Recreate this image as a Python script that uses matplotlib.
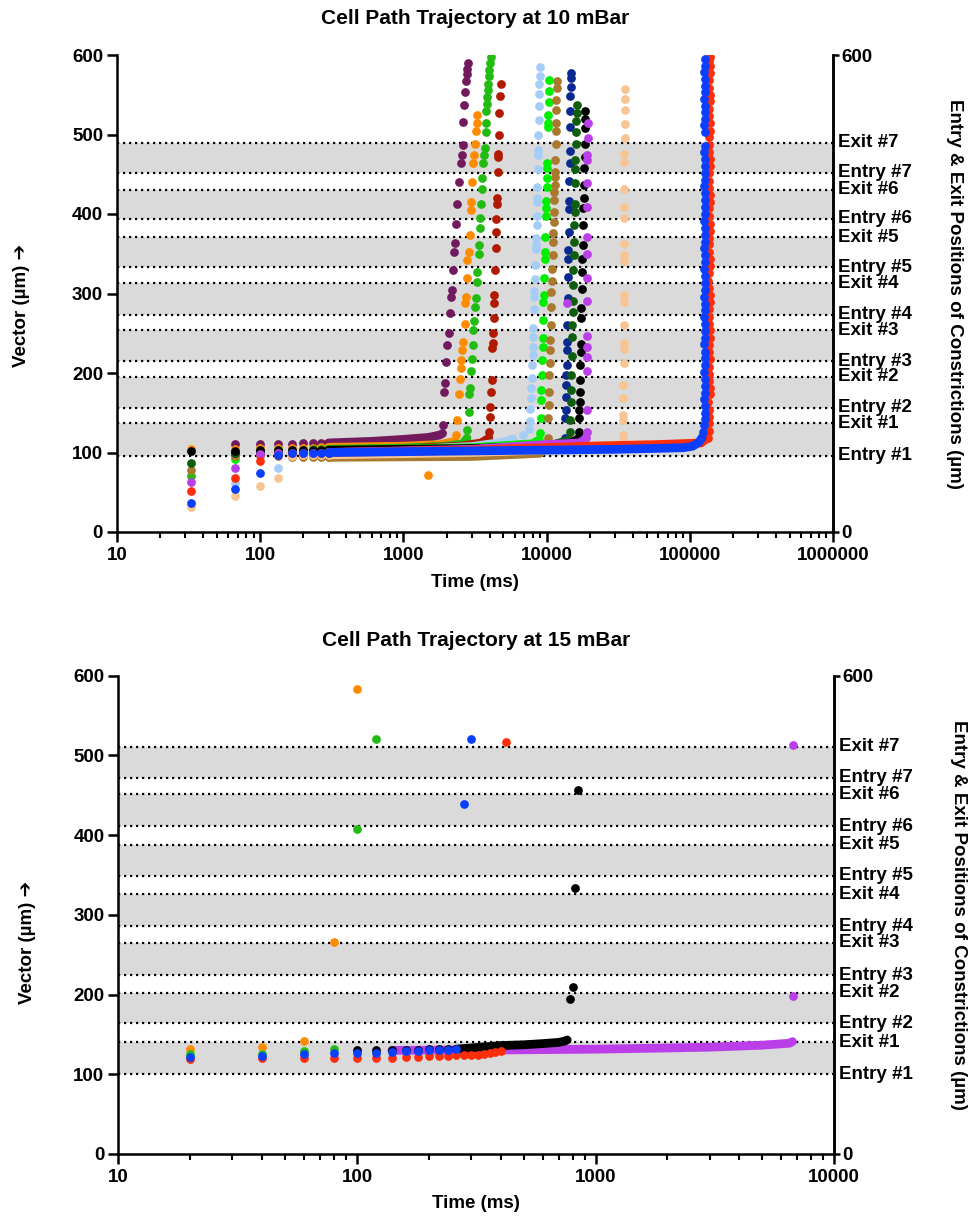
import numpy as np
import matplotlib
matplotlib.use("Agg")
import matplotlib.pyplot as plt
from matplotlib.ticker import FixedLocator, LogLocator, NullFormatter

plt.rcParams['font.family'] = ['Liberation Sans', 'DejaVu Sans']
plt.rcParams['font.weight'] = 'bold'

nan = np.nan

# constriction entry / exit positions (um)
entry10 = [96, 156, 215, 273, 333, 394, 452]
exit10 = [136.5, 195, 253.5, 312.6, 370.5, 430.5, 489.6]
entry15 = [100, 164, 224, 286, 349, 411, 472]
exit15 = [140, 202, 265, 326, 388, 451, 511]

# ---------------- 10 mBar ----------------
frames10 = [33, 67, 100, 133, 167, 200, 233, 267, 300]

plum_early = [nan, 111, 111, 111, 111, 111.5, 111.5, 112, 112]
plum_creep_t = [300, 600, 1000, 1500, 1800]
plum_creep_v = [112, 114, 116.5, 119, 122]
plum_jump_t = [1851, 1882, 1921, 1952, 1984, 2026, 2092, 2115, 2139, 2174, 2209, 2256, 2293,
               2329, 2379, 2457, 2513, 2553, 2595, 2620, 2650, 2680, 2737, 2768, 2794, 2812]
plum_jump_v = [124, 135, 176, 187, 214, 235, 250, 276, 296, 304, 330, 352, 363,
               388, 412, 440, 464, 474, 487, 516, 537, 554, 567, 576, 583, 590]

orange_early = [104.5, 104.5, 106, 106, 106, 106, 106, 106.5, 106.5]
orange_creep_t = [300, 1000, 1800, 2300]
orange_creep_v = [106.5, 108, 110, 114]
orange_jump_t = [1493, 2329, 2379, 2434, 2485, 2513, 2537, 2566, 2620, 2680, 2706, 2737, 2794,
                 2794, 2858, 2918, 2951, 2980, 3013, 3048, 3112, 3178, 3214, 3251, 3282]
orange_jump_v = [72, 122, 141, 174, 193, 206, 216, 229, 239, 262, 288, 296, 319,
                 342, 352, 373, 405, 415, 440, 464, 474, 488, 504, 515, 525]

green_early = [71, 98, 102, 103, 103, 103.5, 104, 104, 104]
green_creep_t = [300, 1000, 2000, 2600, 2780]
green_creep_v = [104, 105.5, 108, 111, 118]
green_jump_t = [2794, 2858, 2885, 2918, 2966, 2999, 3048, 3077, 3112, 3162, 3199, 3251, 3282,
                3356, 3373, 3410, 3426, 3483, 3522, 3539, 3614, 3654, 3713, 3755, 3774, 3792,
                3817, 3854, 3879, 3917, 3961, 3981, 4025, 4070]
green_jump_v = [128, 151, 173, 181, 202, 217, 235, 254, 266, 283, 294, 315, 327,
                350, 361, 383, 395, 412, 431, 445, 464, 474, 483, 503, 515, 529,
                538, 547, 556, 564, 573, 581, 590, 598]

darkred_early = [nan, 100, 99, 100, 101, 101, 101, 101.5, 102]
darkred_creep_t = [300, 1000, 2500, 3500, 3950]
darkred_creep_v = [102, 104.5, 108, 112, 118]
darkred_jump_t = [3981, 4025, 4044, 4090, 4137, 4177, 4204, 4245, 4272, 4314, 4314, 4362, 4411,
                  4432, 4453, 4482, 4504, 4555, 4577, 4599, 4651, 4674, 4727, 4780]
darkred_jump_v = [126, 145, 157, 176, 191, 231, 238, 250, 269, 288, 298, 329, 357,
                  377, 394, 412, 420, 453, 472, 476, 500, 527, 549, 564]

lightblue_early = [nan, 62, nan, 81, 96, 99, 100, 100, 101]
lightblue_creep_t = [300, 1000, 3000, 5000, 5850]
lightblue_creep_v = [101, 103.5, 107.5, 113, 117]
lightblue_jump_t = [6877, 7537, 7660, 7660, 7747, 7822, 7907, 7907, 7997, 7997, 8075, 8075, 8166,
                    8166, 8206, 8259, 8339, 8433, 8433, 8474, 8529, 8529, 8570, 8610, 8610, 8666,
                    8710, 8710, 8750, 8806, 8850, 8892, 8892, 8993, 8993]
lightblue_jump_v = [122, 130, 139, 155, 168, 181, 194, 210, 223, 233, 245, 257, 280,
                    296, 303, 318, 336, 356, 361, 370, 386, 397, 415, 420, 434, 457,
                    474, 480, 499, 518, 536, 551, 563, 574, 585]

brightgreen_early = [nan, 92, 100, 101, 102, 102, 102, 102, 103]
brightgreen_creep_t = [300, 3000, 8000, 8900]
brightgreen_creep_v = [103, 106, 111, 116]
brightgreen_jump_t = [8993, 9096, 9140, 9184, 9244, 9333, 9394, 9394, 9439, 9485, 9545, 9592,
                      9698, 9698, 9792, 9856, 9904, 9904, 10016, 10016, 10065, 10065, 10228,
                      10228, 10278, 10344, 10394, 10444]
brightgreen_jump_v = [124, 143, 166, 178, 198, 216, 233, 244, 267, 289, 298, 320,
                      344, 352, 371, 397, 407, 416, 434, 445, 458, 464, 509,
                      514, 525, 541, 555, 569]

brown_early = [78, 95, 96, 95, 94, 94, 94, 94, 94]
brown_creep_t = [300, 3000, 9000, 10100]
brown_creep_v = [94, 95, 99, 108]
brown_jump_t = [10228, 10278, 10344, 10394, 10444, 10512, 10562, 10613, 10682, 10733, 10785,
                10855, 10908, 11031, 11084, 11138, 11210, 11210, 11264, 11319, 11392, 11392,
                11447, 11503, 11575, 11575, 11632, 11632, 11687, 11762, 11762]
brown_jump_v = [118, 143, 160, 176, 197, 212, 229, 241, 260, 283, 302,
                316, 331, 348, 365, 376, 390, 403, 418, 428, 436, 447,
                453, 468, 488, 504, 515, 531, 543, 558, 567]

navy_early = [nan, 100, 101, 101, 101, 101, 101, 101, 101]
navy_creep_t = [300, 3000, 10000, 13400]
navy_creep_v = [101, 104, 108, 113]
navy_jump_t = [13443, 13508, 13595, 13661, 13661, 13727, 13816, 13883, 13950, 13950, 14040,
               14106, 14174, 14174, 14266, 14336, 14336, 14404, 14497, 14568, 14497, 14568,
               14638, 14733, 14733, 14733]
navy_jump_v = [118, 143, 153, 170, 185, 197, 210, 229, 239, 261, 294,
               321, 344, 355, 377, 406, 416, 441, 464, 479, 509, 530,
               548, 560, 571, 577]

darkgreen_early = [87, 99, 100, 100, 100, 100, 100, 100, 100]
darkgreen_creep_t = [300, 3000, 10000, 14500]
darkgreen_creep_v = [100, 103, 107, 116]
darkgreen_jump_t = [14568, 14638, 14733, 14805, 14876, 14972, 15045, 15117, 15215, 15288, 15363,
                    15363, 15462, 15534, 15609, 15710, 15786, 15786, 15863, 15863, 15965, 16042,
                    16120, 16224, 16224]
darkgreen_jump_v = [126, 141, 164, 178, 197, 222, 245, 260, 277, 290, 311,
                    329, 348, 365, 386, 403, 413, 439, 457, 468, 488, 503,
                    517, 527, 537]

black_early = [102, 102, 103, 103, 103, 103, 103, 103, 103]
black_creep_t = [300, 3000, 10000, 15000, 16800]
black_creep_v = [103, 105, 108, 112, 118]
black_jump_t = [16834, 16916, 16916, 17025, 17025, 17110, 17192, 17303, 17303, 17387, 17471,
                17582, 17667, 17750, 17864, 17950, 18034, 18151, 18239, 18325, 18443, 18536,
                18536, 18622, 18622]
black_jump_v = [126, 143, 154, 164, 176, 191, 210, 227, 237, 269, 282,
                306, 327, 344, 361, 386, 407, 420, 436, 458, 472, 488,
                508, 520, 530]

magenta_early = [63, 81, 98, 100, 100, 100, 100, 100, 100]
magenta_creep_t = [300, 3000, 8000, 17000, 19000]
magenta_creep_v = [100, 104, 109, 112, 118]
magenta_jump_t = [19055, 19055, 19055, 19055, 19055, 19055, 13816, 19055, 19055, 19240, 19240,
                  19240, 19240, 19240, 19240, 19364, 19458]
magenta_jump_v = [126, 153, 202, 220, 233, 246, 288, 291, 320, 350, 371,
                  409, 439, 468, 474, 496, 514]

peach_early = [32, 45, 58, 68.5, 95, 97, 97, 97, 97]
peach_creep_t = [300, 3000, 20000, 34000]
peach_creep_v = [97, 100, 105, 110]
peach_jump_t = [34310, 34310, 34310, 34310, 34310, 34310, 34534, 34534, 34534, 34700, 34700,
                34700, 34700, 34700, 34869, 34869, 34869, 34869, 34869, 34869, 35094, 35094,
                35094, 35094, 35094]
peach_jump_v = [115, 122, 141, 147, 169, 185, 213, 230, 238, 261, 289,
                298, 341, 349, 362, 395, 409, 431, 465, 476, 495, 513,
                531, 545, 557]

red_early = [51, 68, 89, 97, 99, 99, 100, 100, 100]
red_creep_t = [300, 3000, 20000, 60000, 120000, 132000]
red_creep_v = [100, 103, 108, 110, 112, 118]
red_jump_t = [134000, 135500, 136500, 137000, 136000, 135000, 137500, 138000, 136500, 135500,
              137000, 138500, 137000, 136000, 137500, 138000, 136500, 135500, 137000, 138500,
              137500, 136000, 135000, 137000, 138000, 137500, 136500, 135500, 137000, 138500,
              137500, 136000, 137000, 138000, 137500, 136500, 135500, 137000, 138000, 137500,
              136500, 135500, 137000, 138000, 137500, 136000, 137000, 138500, 137500, 136500,
              137000, 138000, 137500, 137000, 138000]
red_jump_v = [118, 127, 137, 145, 154, 163, 173, 181, 190, 199,
              208, 218, 226, 235, 244, 254, 262, 271, 281, 289,
              298, 307, 316, 326, 334, 343, 352, 362, 370, 379,
              388, 397, 407, 415, 424, 433, 442, 452, 460, 469,
              478, 487, 497, 505, 514, 523, 532, 542, 550, 559,
              568, 577, 586, 593, 598]

blue_early = [36, 54, 74, 97, 100, 100, 100, 100, 100]
blue_creep_t = [300, 3000, 30000, 90000, 105000, 116000, 122000]
blue_creep_v = [100, 102, 104, 106, 108, 113, 119]
blue_jump_t = [124000, 126000, 127000, 127500, 127000, 126500, 127000, 128000, 127500, 126500,
               127000, 127500, 127000, 126500, 127500, 128000, 127000, 126500, 127500, 127000,
               126000, 127500, 128000, 127000, 126500, 127500, 127000, 126500, 128000, 127500,
               127000, 126500, 127500, 128000, 127000, 127500, 126500, 127000, 128000, 127500,
               127000, 126500, 127500, 127000, 126500, 127000, 127500, 127000, 126500, 127000,
               127500, 127000, 126500, 127000, 127500]
blue_jump_v = [126, 134, 142, 150, 158, 167, 175, 184, 193, 201,
               210, 219, 227, 236, 244, 253, 262, 270, 279, 287,
               296, 305, 313, 322, 331, 339, 348, 357, 365, 374,
               383, 391, 400, 409, 417, 426, 435, 443, 452, 461,
               469, 478, 486, 503, 512, 520, 528, 536, 545, 553,
               561, 570, 578, 586, 595]

series10 = [
    ('#711a5e', plum_early, plum_creep_t, plum_creep_v, plum_jump_t, plum_jump_v),
    ('#ff8c00', orange_early, orange_creep_t, orange_creep_v, orange_jump_t, orange_jump_v),
    ('#22bb11', green_early, green_creep_t, green_creep_v, green_jump_t, green_jump_v),
    ('#b01a00', darkred_early, darkred_creep_t, darkred_creep_v, darkred_jump_t, darkred_jump_v),
    ('#a6cdf5', lightblue_early, lightblue_creep_t, lightblue_creep_v, lightblue_jump_t, lightblue_jump_v),
    ('#00ee00', brightgreen_early, brightgreen_creep_t, brightgreen_creep_v, brightgreen_jump_t, brightgreen_jump_v),
    ('#a8792e', brown_early, brown_creep_t, brown_creep_v, brown_jump_t, brown_jump_v),
    ('#0a2a90', navy_early, navy_creep_t, navy_creep_v, navy_jump_t, navy_jump_v),
    ('#0e5e0e', darkgreen_early, darkgreen_creep_t, darkgreen_creep_v, darkgreen_jump_t, darkgreen_jump_v),
    ('#000000', black_early, black_creep_t, black_creep_v, black_jump_t, black_jump_v),
    ('#bb3fe8', magenta_early, magenta_creep_t, magenta_creep_v, magenta_jump_t, magenta_jump_v),
    ('#f6c593', peach_early, peach_creep_t, peach_creep_v, peach_jump_t, peach_jump_v),
    ('#ff2e0a', red_early, red_creep_t, red_creep_v, red_jump_t, red_jump_v),
    ('#0a3fff', blue_early, blue_creep_t, blue_creep_v, blue_jump_t, blue_jump_v),
]

# ---------------- 15 mBar ----------------
frames15 = [20, 40, 60, 80, 100, 120, 140, 160, 180, 200, 220,
            240, 260, 280, 300, 320, 340, 360, 380, 400, 420]

orange15 = [131.7, 134.6, 142.2, 266.4, 583]
green15 = [126, 126, 129.6, 131.7, 407.8, 520.3]
blue15 = [121.3, 123.4, 125.1, 126.3, 126.3, 127.1, 128.4, 129.6, 129.6, 130.5,
          130.5, 130.5, 131.3, 439.5, 520.7]
red15 = [119.2, 120, 120.9, 120, 120, 120, 120.9, 122.1, 122.1, 123,
         123, 123, 123.8, 123.8, 123.8, 124.2, 125.1, 126.3, 127.6, 129.6, 516.5]

black15_dot_t = [100, 120, 140, 160, 180, 200, 220, 240, 260]
black15_dot_v = [130.5, 130.5, 131, 131, 131, 131.3, 131.3, 131.5, 131.5]
black15_creep_t = [260, 300, 400, 500, 600, 700, 740, 760]
black15_creep_v = [131.5, 133, 136, 137, 138.5, 140, 141.5, 143]
black15_jump_t = [780, 800, 820, 840]
black15_jump_v = [194, 209, 334, 456.7]

purple15_creep_t = [140, 300, 400, 1000, 2000, 3000, 5000, 6500, 6680]
purple15_creep_v = [130, 130.5, 130.5, 131.5, 133, 134, 136.5, 139, 141]
purple15_jump_t = [6700, 6720]
purple15_jump_v = [198.6, 513.2]

exit_labels = ['Exit #%d' % i for i in range(1, 8)]
entry_labels = ['Entry #%d' % i for i in range(1, 8)]

MS = 6.3
LW = 6.3


def dots(ax, t, v, color, z):
    ax.plot(t, v, 'o', ls='none', ms=MS, mew=0, color=color, zorder=z)


def creep(ax, t, v, color, z):
    ax.plot(t, v, '-', lw=LW, color=color, solid_capstyle='round',
            solid_joinstyle='round', zorder=z)


def setup(ax, entry, exits, xmax, xticks):
    for a, b in zip(entry, exits):
        ax.axhspan(a, b, color='#dadada', lw=0, zorder=0)
    for y in entry + exits:
        ax.axhline(y, color='black', lw=1.6, ls=(0, (1, 1.7)), zorder=1)
    ax.set_xscale('log')
    ax.set_xlim(10, xmax)
    ax.set_ylim(0, 600)
    ax.xaxis.set_major_locator(FixedLocator(xticks))
    ax.set_xticklabels([str(x) for x in xticks])
    ax.xaxis.set_minor_locator(LogLocator(base=10, subs=np.arange(2, 10)))
    ax.xaxis.set_minor_formatter(NullFormatter())
    ax.set_yticks([0, 100, 200, 300, 400, 500, 600])
    ax.tick_params(which='major', length=7, width=1.8, labelsize=13.5, direction='out')
    ax.tick_params(which='minor', length=4, width=1.5)
    ax.tick_params(axis='y', pad=3)
    for s in ['left', 'bottom', 'right']:
        ax.spines[s].set_linewidth(1.8)
    ax.spines['top'].set_visible(False)
    for y, lab in zip(exits, exit_labels):
        ax.text(1.007, y, lab, transform=ax.get_yaxis_transform(), ha='left',
                va='center', fontsize=13.5, fontweight='bold')
    for y, lab in zip(entry, entry_labels):
        ax.text(1.007, y, lab, transform=ax.get_yaxis_transform(), ha='left',
                va='center', fontsize=13.5, fontweight='bold')
    ax2 = ax.twinx()
    ax2.set_ylim(0, 600)
    ax2.set_yticks([0, 600])
    ax2.tick_params(length=4, width=1.8, labelsize=13.5, pad=2)
    ax2.spines['right'].set_linewidth(1.8)
    for s in ['top', 'left', 'bottom']:
        ax2.spines[s].set_visible(False)
    return ax2


fig = plt.figure(figsize=(9.68, 12.2), dpi=100)

# top panel
ax = fig.add_axes([117 / 968, 1 - 532 / 1220, 716 / 968, 477 / 1220])
setup(ax, entry10, exit10, 1e6, [10, 100, 1000, 10000, 100000, 1000000])
for i, (c, early, ct, cv, jt, jv) in enumerate(series10):
    z = 3 + i * 0.1
    creep(ax, ct, cv, c, z)
    dots(ax, frames10, early, c, z)
    dots(ax, jt, jv, c, z)

# bottom panel
bx = fig.add_axes([118.3 / 968, 1 - 1154 / 1220, 716 / 968, 478.3 / 1220])
setup(bx, entry15, exit15, 1e4, [10, 100, 1000, 10000])
creep(bx, purple15_creep_t, purple15_creep_v, '#bb3fe8', 3)
dots(bx, purple15_jump_t, purple15_jump_v, '#bb3fe8', 3)
creep(bx, black15_creep_t, black15_creep_v, '#000000', 3.1)
dots(bx, black15_dot_t, black15_dot_v, '#000000', 3.1)
dots(bx, black15_jump_t, black15_jump_v, '#000000', 3.1)
dots(bx, frames15[:len(red15)], red15, '#ff2e0a', 3.2)
dots(bx, frames15[:len(orange15)], orange15, '#ff8c00', 3.3)
dots(bx, frames15[:len(green15)], green15, '#22bb11', 3.4)
dots(bx, frames15[:len(blue15)], blue15, '#0a3fff', 3.5)

# titles and axis labels
fig.text(475 / 968, 1 - 18 / 1220, 'Cell Path Trajectory at 10 mBar', ha='center',
         va='center', fontsize=15, fontweight='bold')
fig.text(476 / 968, 1 - 640 / 1220, 'Cell Path Trajectory at 15 mBar', ha='center',
         va='center', fontsize=15, fontweight='bold')
fig.text(475 / 968, 1 - 582 / 1220, 'Time (ms)', ha='center', va='center',
         fontsize=13.5, fontweight='bold')
fig.text(476 / 968, 1 - 1203 / 1220, 'Time (ms)', ha='center', va='center',
         fontsize=13.5, fontweight='bold')
fig.text(22 / 968, 1 - 305 / 1220, 'Vector (µm) ➔', rotation=90, ha='center',
         va='center', fontsize=13.5, fontweight='bold')
fig.text(28 / 968, 1 - 942 / 1220, 'Vector (µm) ➔', rotation=90, ha='center',
         va='center', fontsize=13.5, fontweight='bold')
fig.text(955 / 968, 1 - 294 / 1220, 'Entry & Exit Positions of Constrictions (µm)',
         rotation=270, ha='center', va='center', fontsize=13.5, fontweight='bold')
fig.text(958 / 968, 1 - 915 / 1220, 'Entry & Exit Positions of Constrictions (µm)',
         rotation=270, ha='center', va='center', fontsize=13.5, fontweight='bold')

fig.savefig('out.png', dpi=100)
